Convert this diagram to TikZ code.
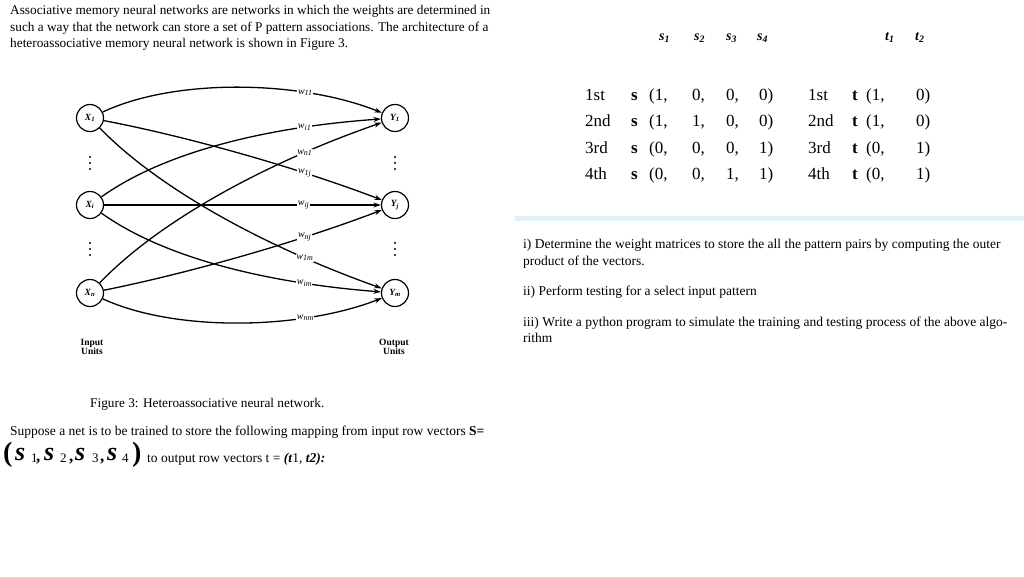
\documentclass[tikz,border=0pt]{standalone}
\usepackage{fontspec}
\setmainfont{Liberation Serif}
\usetikzlibrary{arrows.meta}
\definecolor{barblue}{RGB}{222,242,248}
\newcommand{\wsub}[1]{\raisebox{-1.5pt}{\fontsize{8}{8}\selectfont #1}}
\begin{document}
\begin{tikzpicture}[x=1pt,y=-1pt,
  txt/.style={anchor=base west,inner sep=0pt,font=\fontsize{13.3}{15}\selectfont},
  rtxt/.style={anchor=base west,inner sep=0pt,font=\fontsize{13.5}{15}\selectfont},
  unit/.style={circle,draw,line width=1.2pt,minimum size=27pt,inner sep=0pt,font=\fontsize{9.5}{9.5}\selectfont\bfseries\itshape},
  conn/.style={line width=1.3pt,-{Stealth[length=7.5pt,width=5pt]}},
  wlab/.style={fill=white,inner sep=0.8pt,font=\fontsize{10}{10}\selectfont\itshape},
  dotm/.style={fill=black},
  ulab/.style={align=center,inner sep=0pt,font=\fontsize{9.5}{8.5}\selectfont\bfseries},
  cell/.style={anchor=base west,inner sep=0pt,font=\fontsize{17}{17}\selectfont},
  bcell/.style={anchor=base west,inner sep=0pt,font=\fontsize{17}{17}\selectfont\bfseries},
  hcell/.style={anchor=base west,inner sep=0pt,font=\fontsize{14}{14}\selectfont\bfseries\itshape},
  vpar/.style={anchor=base west,inner sep=0pt,font=\fontsize{28}{28}\selectfont\bfseries},
  vs/.style={anchor=base west,inner sep=0pt,font=\fontsize{26}{26}\selectfont\bfseries\itshape},
  vdig/.style={anchor=base west,inner sep=0pt,font=\fontsize{13}{13}\selectfont},
  vcom/.style={anchor=base west,inner sep=0pt,font=\fontsize{17}{17}\selectfont\bfseries}
]
\useasboundingbox (0,0) rectangle (1024,576);
\fill[white] (0,0) rectangle (1024,576);

% top paragraph
\node[txt] (p1) at (10,14) {Associative memory neural networks are networks in which the weights are determined in};
\node[txt] (p2) at (10,31) {such a way that the network can store a set of P pattern associations. The architecture of a};
\node[txt] (p3) at (10,47) {heteroassociative memory neural network is shown in Figure 3.};

% network units
\node[unit] (X1) at (90,118) {X\textsubscript{1}};
\node[unit] (Xi) at (90,205) {X\textsubscript{i}};
\node[unit] (Xn) at (90,293) {X\textsubscript{n}};
\node[unit] (Y1) at (395,118) {Y\textsubscript{1}};
\node[unit] (Yj) at (395,205) {Y\textsubscript{j}};
\node[unit] (Ym) at (395,293) {Y\textsubscript{m}};
\foreach \xx in {90,395}{
  \foreach \yy in {157,163,169,243,249,255}{
    \fill[dotm] (\xx,\yy) circle[radius=1.2pt];
  }
}
\node[ulab] (inu) at (92,347) {Input\\Units};
\node[ulab] (outu) at (394,347) {Output\\Units};

% connections
\draw[conn] (X1) .. controls (175,78) and (300,80) .. (Y1) node[wlab,pos=0.72] {w\wsub{11}};
\draw[conn] (X1) .. controls (180,135) and (290,165) .. (Yj) node[wlab,pos=0.73] {w\wsub{1j}};
\draw[conn] (X1) .. controls (160,190) and (268,248) .. (Ym) node[wlab,pos=0.77] {w\wsub{1m}};
\draw[conn] (Xi) .. controls (170,148) and (280,126) .. (Y1) node[wlab,pos=0.75] {w\wsub{i1}};
\draw[conn] (Xi) -- (Yj) node[wlab,pos=0.72] {w\wsub{ij}};
\draw[conn] (Xi) .. controls (170,262) and (280,284) .. (Ym) node[wlab,pos=0.75] {w\wsub{im}};
\draw[conn] (Xn) .. controls (160,220) and (268,162) .. (Y1) node[wlab,pos=0.77] {w\wsub{n1}};
\draw[conn] (Xn) .. controls (180,275) and (290,245) .. (Yj) node[wlab,pos=0.73] {w\wsub{nj}};
\draw[conn] (Xn) .. controls (175,332) and (300,330) .. (Ym) node[wlab,pos=0.72] {w\wsub{nm}};

% caption and text below
\node[txt] (cap) at (90,407) {Figure 3: Heteroassociative neural network.};
\node[rtxt] (sup) at (10,435) {Suppose a net is to be trained to store the following mapping from input row vectors \textbf{S=}};
\node[vpar] (vl) at (3,461) {(};
\node[vs] (v1) at (15,460) {s};
\node[vdig] (n1) at (31,462) {1};
\node[vcom] (k1) at (36,461) {,};
\node[vs] (v2) at (44,460) {s};
\node[vdig] (n2) at (60,462) {2};
\node[vcom] (k2) at (69,461) {,};
\node[vs] (v3) at (75,460) {s};
\node[vdig] (n3) at (92,462) {3};
\node[vcom] (k3) at (100,461) {,};
\node[vs] (v4) at (107,460) {s};
\node[vdig] (n4) at (122,462) {4};
\node[vpar] (vr) at (132,461) {)};
\node[rtxt] (tvec) at (147,462) {to output row vectors t = \textbf{\textit{(t}}1, \textbf{\textit{t2):}}};

% table header
\node[hcell] (hs1) at (659,40) {s\textsubscript{1}};
\node[hcell] (hs2) at (694,40) {s\textsubscript{2}};
\node[hcell] (hs3) at (726,40) {s\textsubscript{3}};
\node[hcell] (hs4) at (757,40) {s\textsubscript{4}};
\node[hcell] (ht1) at (885,40) {t\textsubscript{1}};
\node[hcell] (ht2) at (915,40) {t\textsubscript{2}};

% table rows
\foreach \r/\ord/\a/\b/\c/\d/\e/\f/\y in {1/1st/1/0/0/0/1/0/100,2/2nd/1/1/0/0/1/0/126,3/3rd/0/0/0/1/0/1/153,4/4th/0/0/1/1/0/1/179}{
  \node[cell] (o\r) at (585,\y) {\ord};
  \node[bcell] (s\r) at (631,\y) {s};
  \node[cell] (a\r) at (649,\y) {(\a,};
  \node[cell] (b\r) at (692,\y) {\b,};
  \node[cell] (c\r) at (726,\y) {\c,};
  \node[cell] (d\r) at (759,\y) {\d)};
  \node[cell] (oo\r) at (808,\y) {\ord};
  \node[bcell] (t\r) at (852,\y) {t};
  \node[cell] (e\r) at (866,\y) {(\e,};
  \node[cell] (f\r) at (916,\y) {\f)};
}

% separator bar
\fill[barblue] (515,216) rectangle (1024,221);

% right text
\node[rtxt] (q1) at (523,248) {i) Determine the weight matrices to store the all the pattern pairs by computing the outer};
\node[rtxt] (q1b) at (523,265) {product of the vectors.};
\node[rtxt] (q2) at (523,295) {ii) Perform testing for a select input pattern};
\node[rtxt] (q3) at (523,326) {iii) Write a python program to simulate the training and testing process of the above algo-};
\node[rtxt] (q3b) at (523,342) {rithm};
\end{tikzpicture}
\end{document}
